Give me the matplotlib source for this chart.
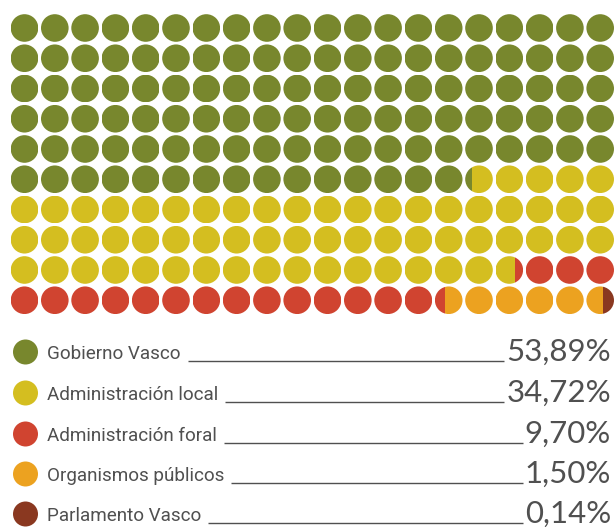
import matplotlib
matplotlib.use("Agg")
import matplotlib.pyplot as plt
from matplotlib.patches import Circle, Rectangle
import numpy as np

# legend data
labels = ["Gobierno Vasco", "Administración local", "Administración foral",
          "Organismos públicos", "Parlamento Vasco"]
pct_text = ["53,89%", "34,72%", "9,70%", "1,50%", "0,14%"]
colors = ["#78872D", "#D4BE20", "#D04430", "#ECA220", "#8A3820"]

# how many dots (in dot widths) each group fills in the 20x10 grid, as drawn
dot_units = [115.24, 61.46, 17.68, 5.22, 0.40]

n_cols, n_rows = 20, 10
x0, y0 = 24.5, 28.0
dx, dy = 30.3, 30.25
r = 13.8

fig = plt.figure(figsize=(6.16, 5.27), dpi=100)
ax = fig.add_axes([0, 0, 1, 1])
ax.set_xlim(0, 616)
ax.set_ylim(527, 0)
ax.axis("off")

bounds = np.concatenate([[0], np.cumsum(dot_units)])

for i in range(n_cols * n_rows):
    row, col = divmod(i, n_cols)
    cx = x0 + col * dx
    cy = y0 + row * dy
    clip = Circle((cx, cy), r, transform=ax.transData)
    for k in range(len(dot_units)):
        s = max(bounds[k], i)
        e = min(bounds[k + 1], i + 1)
        if e <= s:
            continue
        left = cx - r + (s - i) * 2 * r
        width = (e - s) * 2 * r
        rect = Rectangle((left, cy - r), width, 2 * r, facecolor=colors[k],
                         edgecolor="none", antialiased=True)
        ax.add_patch(rect)
        rect.set_clip_path(clip)

# legend rows
leg_y = [352, 393, 434, 474, 514]
txt_color = "#505050"

fig.canvas.draw()
renderer = fig.canvas.get_renderer()
inv = ax.transData.inverted()

for lab, pt, c, y in zip(labels, pct_text, colors, leg_y):
    ax.add_patch(Circle((25.5, y), 12.5, facecolor=c, edgecolor="none"))
    t1 = ax.text(47, y + 7, lab, fontsize=13.6, family=["Roboto", "DejaVu Sans"],
                 color=txt_color, ha="left", va="baseline")
    t2 = ax.text(611, y + 9, pt, fontsize=22.5, family=["Lato", "DejaVu Sans"],
                 color=txt_color, ha="right", va="baseline")
    b1 = t1.get_window_extent(renderer=renderer)
    b2 = t2.get_window_extent(renderer=renderer)
    xa = inv.transform((b1.x1, 0))[0] + 7
    xb = inv.transform((b2.x0, 0))[0] - 2
    ax.plot([xa, xb], [y + 9, y + 9], color=txt_color, lw=1.0,
            solid_capstyle="butt")

fig.savefig("out.png", dpi=100)
